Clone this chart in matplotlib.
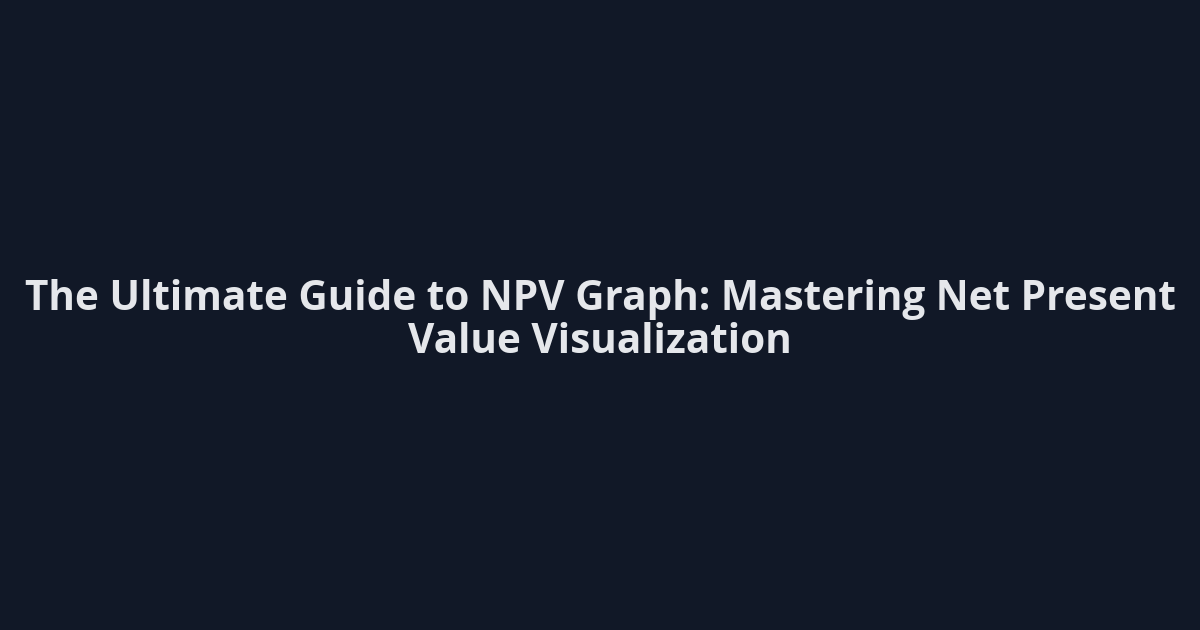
import matplotlib
matplotlib.use("Agg")
import matplotlib.pyplot as plt

title_lines = ["The Ultimate Guide to NPV Graph: Mastering Net Present",
               "Value Visualization"]
bg_color = "#111827"
text_color = "#e5e7eb"

fig = plt.figure(figsize=(12, 6.3), dpi=100)
fig.patch.set_facecolor(bg_color)
y_centers = [0.525, 0.456]
for line, y in zip(title_lines, y_centers):
    fig.text(0.5, y, line, ha="center", va="center", color=text_color,
             fontsize=29.2, fontweight="bold", family=["Open Sans", "DejaVu Sans"])
fig.savefig("out.png", dpi=100, facecolor=bg_color)
